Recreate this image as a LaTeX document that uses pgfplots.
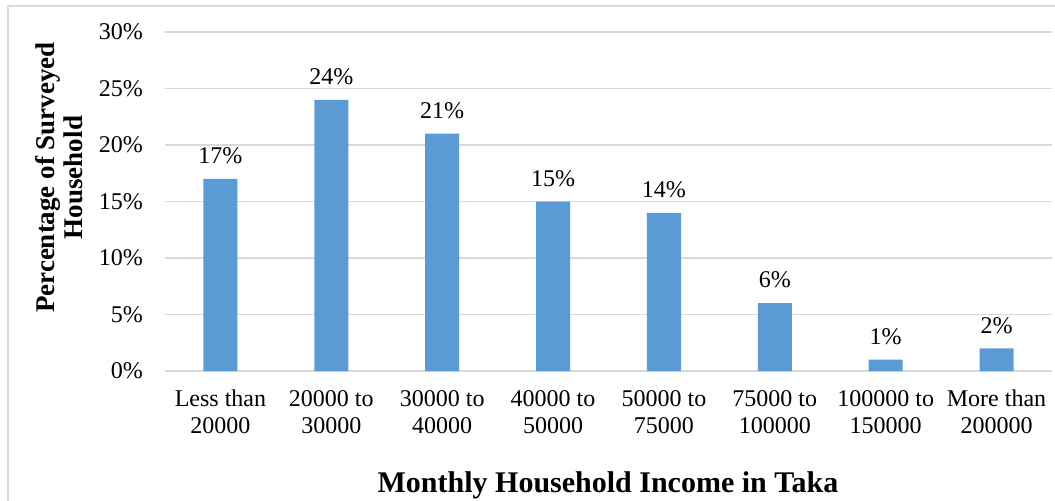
\documentclass[border=0pt]{standalone}
\usepackage{fontspec}
\setmainfont{Liberation Serif}
\usepackage{pgfplots}
\pgfplotsset{compat=1.18}
\definecolor{barblue}{HTML}{5B9BD5}
\definecolor{gridgray}{HTML}{D9D9D9}

\begin{document}
\begin{tikzpicture}
\useasboundingbox (0,0) rectangle (527.5pt,250pt);
% outer chart frame (right and bottom edges fall off the page)
\draw[gridgray, line width=0.75pt] (4pt,-5pt) -- (4pt,247pt) -- (535pt,247pt);
\begin{axis}[
    at={(82.5pt,64.5pt)}, anchor=south west,
    scale only axis, width=443.5pt, height=169.5pt,
    xmin=-0.5, xmax=7.5,
    ymin=0, ymax=30,
    ytick={0,5,...,30},
    yticklabel={\pgfmathprintnumber{\tick}\%},
    xtick=data,
    xticklabels={{Less than\\20000},{20000 to\\30000},{30000 to\\40000},{40000 to\\50000},{50000 to\\75000},{75000 to\\100000},{100000 to\\150000},{More than\\200000}},
    xticklabel style={align=center, yshift=-6pt},
    yticklabel style={xshift=-7.5pt},
    tick label style={font=\fontsize{12}{13.5}\selectfont},
    /pgf/number format/assume math mode=true,
    major tick length=0pt,
    axis line style={draw=none},
    ymajorgrids,
    grid style={gridgray, line width=0.75pt},
]
\addplot[ybar, fill=barblue, draw=none, bar width=17pt,
    nodes near coords={\pgfmathprintnumber{\pgfplotspointmeta}\%},
    every node near coord/.append style={font=\fontsize{12}{13.5}\selectfont, yshift=4pt, text=black},
] coordinates {
    (0,17) (1,24) (2,21) (3,15) (4,14) (5,6) (6,1) (7,2)
};
\end{axis}
\node[font=\bfseries\fontsize{13.5}{14}\selectfont, rotate=90, align=center] at (29.5pt,161.25pt) {Percentage of Surveyed\\Household};
\node[font=\bfseries\fontsize{15}{18}\selectfont] at (304pt,7.5pt) {Monthly Household Income in Taka};
\end{tikzpicture}
\end{document}
